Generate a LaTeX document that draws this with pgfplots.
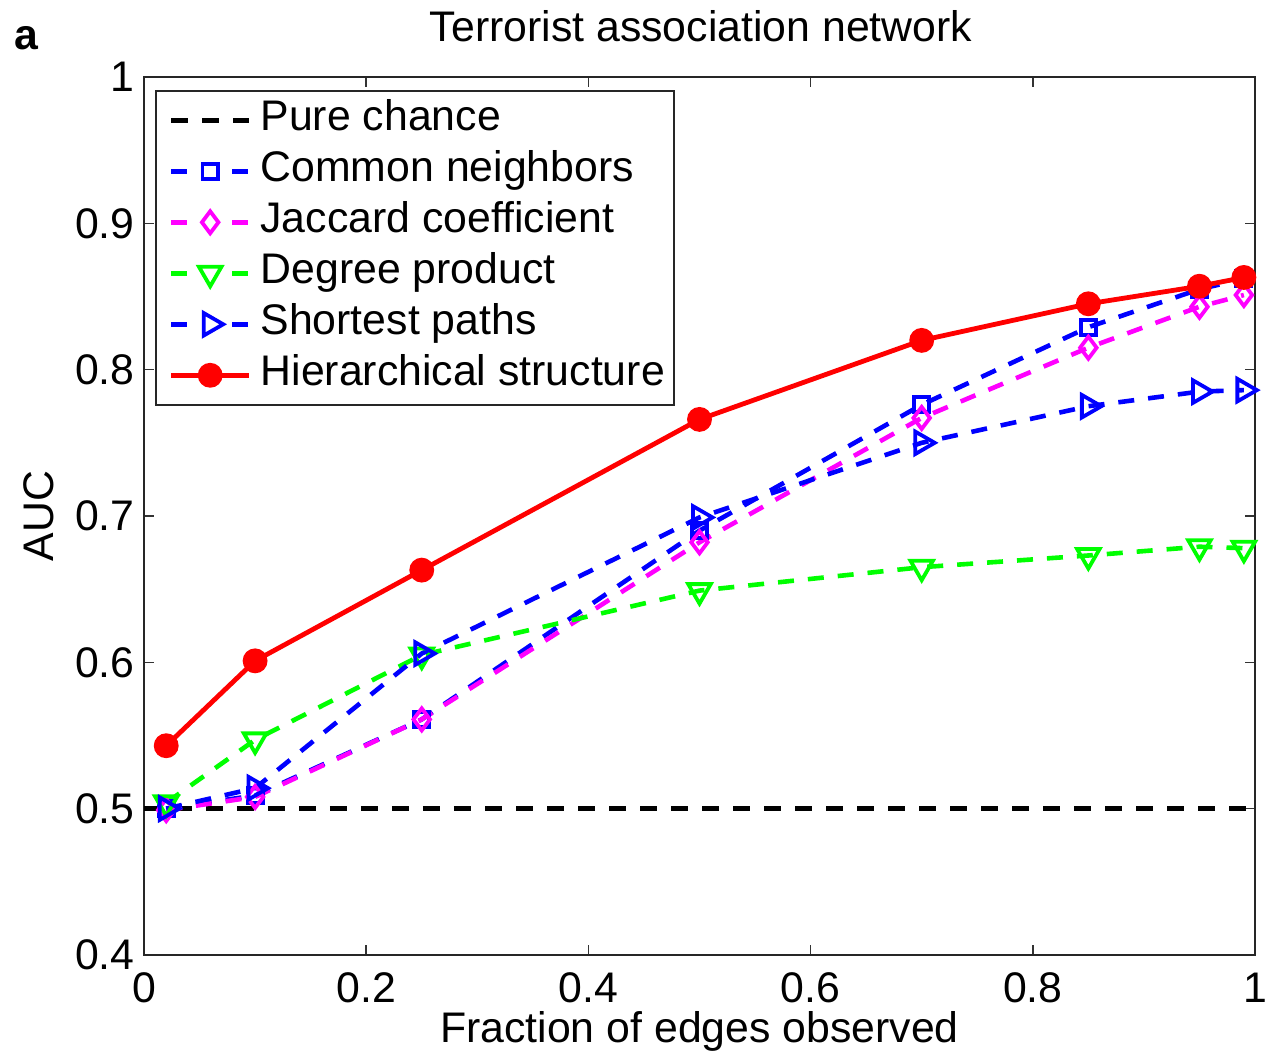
\documentclass[border=0pt]{standalone}
\usepackage{fontspec}
\setmainfont{Liberation Sans}
\usepackage{pgfplots}
\pgfplotsset{compat=1.18}

\definecolor{mblue}{rgb}{0,0,1}
\definecolor{mmagenta}{rgb}{1,0,1}
\definecolor{mgreen}{rgb}{0,1,0}
\definecolor{mred}{rgb}{1,0,0}

% legend sample for dashed series: one dash on each side of an open mark
\pgfplotsset{
  dashed legend/.style={
    legend image code/.code={
      \path (0pt,0pt) (45.5pt,0pt);
      \draw[mark=none] (4pt,0pt) -- (12.5pt,0pt) (34.5pt,0pt) -- (43pt,0pt);
      \draw[only marks] plot coordinates {(23.5pt,0pt)};
    },
  },
}

\begin{document}
\fontsize{21.4}{25}\selectfont
\begin{tikzpicture}
\begin{axis}[
  scale only axis,
  width=555.5pt, height=439pt,
  xmin=0, xmax=1, ymin=0.4, ymax=1,
  xtick={0,0.2,0.4,0.6,0.8,1},
  xticklabels={0,0.2,0.4,0.6,0.8,1},
  ytick={0.4,0.5,0.6,0.7,0.8,0.9,1},
  yticklabels={0.4,0.5,0.6,0.7,0.8,0.9,1},
  tick align=inside,
  major tick length=5pt,
  tick style={black!80, line width=0.8pt},
  axis line style={black!85, line width=1pt},
  /pgf/number format/assume math mode=true,
  xticklabel style={anchor=base, yshift=-24pt, inner sep=0pt},
  yticklabel style={anchor=east, xshift=-4.5pt, inner sep=0pt},
  xlabel={Fraction of edges observed},
  ylabel={AUC},
  xlabel style={at={(axis description cs:0.5,0)}, anchor=base, yshift=-44pt, inner sep=0pt},
  ylabel style={at={(axis description cs:0,0.5)}, anchor=base, yshift=45pt, inner sep=0pt},
  legend cell align=left,
  legend style={
    at={([xshift=5.5pt,yshift=-6.5pt]rel axis cs:0,1)}, anchor=north west,
    draw=black!85, line width=0.8pt, fill=white,
    inner xsep=2.5pt, inner ysep=2pt, row sep=0pt,
    nodes={inner sep=3pt, inner xsep=2pt, text height=15pt, text depth=4.5pt, anchor=west},
  },
  legend image code/.code={
    \path (0pt,0pt) (45.5pt,0pt);
    \draw[mark repeat=2, mark phase=2]
      plot coordinates {(4pt,0pt) (23.5pt,0pt) (43pt,0pt)};
  },
  every axis plot/.append style={line cap=butt},
]

% baseline of a random predictor
\addplot[black, line width=2.3pt, dash pattern=on 8.5pt off 7pt]
  coordinates {(0,0.5) (1,0.5)};
\addlegendentry{Pure chance}

\addplot[mblue, line width=2.3pt, dash pattern=on 8pt off 7pt, dashed legend,
  mark=square, mark size=3.8pt, mark options={solid, line width=1.9pt}]
  coordinates {(0.02,0.500) (0.1,0.509) (0.25,0.561) (0.5,0.690)
               (0.7,0.776) (0.85,0.829) (0.95,0.855) (0.99,0.862)};
\addlegendentry{Common neighbors}

\addplot[mmagenta, line width=2.3pt, dash pattern=on 8pt off 7pt, dashed legend,
  mark=diamond, mark size=5.5pt, mark options={solid, line width=1.9pt}]
  coordinates {(0.02,0.499) (0.1,0.508) (0.25,0.561) (0.5,0.682)
               (0.7,0.767) (0.85,0.815) (0.95,0.843) (0.99,0.851)};
\addlegendentry{Jaccard coefficient}

\addplot[mgreen, line width=2.3pt, dash pattern=on 8pt off 7pt, dashed legend,
  mark=triangle, mark size=6.5pt, mark options={solid, rotate=180, line width=1.9pt}]
  coordinates {(0.02,0.504) (0.1,0.547) (0.25,0.605) (0.5,0.649)
               (0.7,0.665) (0.85,0.673) (0.95,0.679) (0.99,0.678)};
\addlegendentry{Degree product}

\addplot[mblue, line width=2.3pt, dash pattern=on 8pt off 7pt, dashed legend,
  mark=triangle, mark size=6.5pt, mark options={solid, rotate=-90, line width=1.9pt}]
  coordinates {(0.02,0.500) (0.1,0.514) (0.25,0.606) (0.5,0.699)
               (0.7,0.750) (0.85,0.775) (0.95,0.785) (0.99,0.786)};
\addlegendentry{Shortest paths}

\addplot[mred, line width=2.4pt, mark=*, mark size=5pt, mark options={solid}]
  coordinates {(0.02,0.543) (0.1,0.601) (0.25,0.663) (0.5,0.766)
               (0.7,0.820) (0.85,0.845) (0.95,0.857) (0.99,0.863)};
\addlegendentry{Hierarchical structure}

\end{axis}

\node[anchor=base, inner sep=0pt]
  at ([xshift=278.5pt, yshift=17.5pt]current axis.north west)
  {Terrorist association network};
\node[anchor=base west, inner sep=0pt, font=\bfseries]
  at ([xshift=-65pt, yshift=13.5pt]current axis.north west) {a};

\pgfresetboundingbox
\path[use as bounding box]
  ([xshift=-72pt, yshift=-50.5pt]current axis.south west)
  rectangle ([xshift=5pt, yshift=38.5pt]current axis.north east);
\end{tikzpicture}
\end{document}
